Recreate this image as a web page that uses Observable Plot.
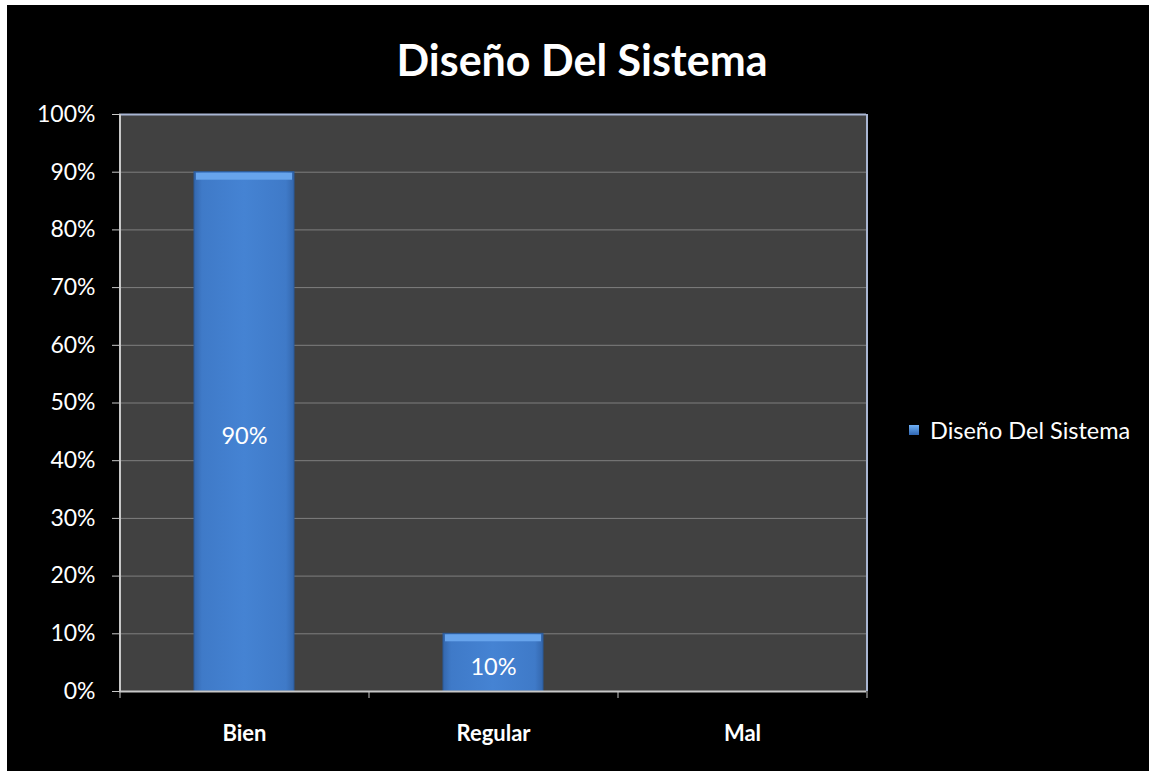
<!DOCTYPE html>
<html>
<head>
<meta charset="utf-8">
<script src="https://cdn.jsdelivr.net/npm/d3@7"></script>
<script src="https://cdn.jsdelivr.net/npm/@observablehq/plot@0.6"></script>
<style>
  html, body { margin: 0; padding: 0; background: #ffffff; overflow: hidden; }
  #frame { position: absolute; left: 7px; top: 5px; width: 1142px; height: 766px; background: #000; overflow: hidden; font-family: Lato, "Open Sans", sans-serif; }
  #title { position: absolute; left: 0; top: 0; width: 1150px; height: 95px; text-align: center; color: #fff; font-weight: 700; font-size: 43px; line-height: 110px; }
  #chart { position: absolute; left: 0; top: 95px; }
  #legend { position: absolute; left: 902px; top: 411px; color: #fff; font-size: 23.5px; display: flex; align-items: center; }
  #legend .sw { width: 10px; height: 10px; margin-right: 11px; background: linear-gradient(#6fb0f5, #2f66b3); }
</style>
</head>
<body>
<div id="frame">
  <div id="title">Diseño Del Sistema</div>
  <div id="chart"></div>
  <div id="legend"><span class="sw"></span><span id="legtext"></span></div>
</div>
<script>
const categories = ["Bien", "Regular", "Mal"];
const values = [0.90, 0.10, 0.00];
const yTicks = [0, 0.1, 0.2, 0.3, 0.4, 0.5, 0.6, 0.7, 0.8, 0.9, 1.0];
const seriesName = "Diseño Del Sistema";

document.getElementById("legtext").textContent = seriesName;

const data = categories.map((c, i) => ({category: c, value: values[i]}));
const shown = data.filter(d => d.value > 0);

const W = 1142, H = 671;
const mL = 112, mR = 283, mT = 14, mB = 80;
const step = (W - mL - mR) / categories.length;

const chart = Plot.plot({
  width: W,
  height: H,
  marginLeft: mL,
  marginRight: mR,
  marginTop: mT,
  marginBottom: mB,
  style: {background: "#000", color: "#fff", fontFamily: "Lato, 'Open Sans', sans-serif"},
  x: {domain: categories, paddingInner: 0.6, paddingOuter: 0.3, label: null},
  y: {domain: [0, 1], label: null},
  marks: [
    Plot.frame({fill: "#414141", stroke: "none"}),
    Plot.gridY(yTicks.slice(1, -1), {stroke: "#7f7f7f", strokeOpacity: 1, strokeWidth: 1}),
    Plot.barY(shown, {x: "category", y: "value", fill: "url(#barGrad)", stroke: "#2a5a9a", strokeWidth: 1}),
    Plot.barY(shown, {x: "category", y1: "value", y2: "value", fill: "#67a4ec", insetLeft: 2, insetRight: 2, insetTop: 1, insetBottom: -8}),
    Plot.text(shown, {x: "category", y: d => d.value / 2, text: d => d3.format(".0%")(d.value), fill: "#fff", fontSize: 23.5, dy: 5}),
    Plot.ruleY([1], {stroke: "#a9b6d3", strokeWidth: 2}),
    Plot.ruleX([categories[categories.length - 1]], {stroke: "#a9b6d3", strokeWidth: 2, dx: step / 2, y1: 0, y2: 1}),
    Plot.ruleX([categories[0]], {stroke: "#c8c8c8", strokeWidth: 2, dx: -step / 2, y1: 0, y2: 1}),
    Plot.ruleY([0], {stroke: "#c8c8c8", strokeWidth: 2}),
    Plot.ruleX(categories, {stroke: "#c8c8c8", strokeWidth: 1, dx: -step / 2, y1: 0, y2: 0, insetBottom: -7}),
    Plot.ruleX([categories[categories.length - 1]], {stroke: "#c8c8c8", strokeWidth: 1, dx: step / 2, y1: 0, y2: 0, insetBottom: -7}),
    Plot.axisY({ticks: yTicks, tickFormat: d3.format(".0%"), tickSize: 7, tickPadding: 17, stroke: "#c8c8c8", fontSize: 23, fill: "#fff"}),
    Plot.axisX({tickSize: 0, tickPadding: 34, fontSize: 22, fontWeight: 700, fill: "#fff"})
  ]
});

const defs = d3.select(chart).insert("defs", ":first-child");
const g = defs.append("linearGradient").attr("id", "barGrad").attr("x1", "0").attr("x2", "1").attr("y1", "0").attr("y2", "0");
g.append("stop").attr("offset", "0").attr("stop-color", "#3467ad");
g.append("stop").attr("offset", "0.08").attr("stop-color", "#3f7ac8");
g.append("stop").attr("offset", "0.5").attr("stop-color", "#4583d3");
g.append("stop").attr("offset", "0.92").attr("stop-color", "#3f7ac8");
g.append("stop").attr("offset", "1").attr("stop-color", "#3467ad");

document.getElementById("chart").appendChild(chart);
</script>
</body>
</html>
